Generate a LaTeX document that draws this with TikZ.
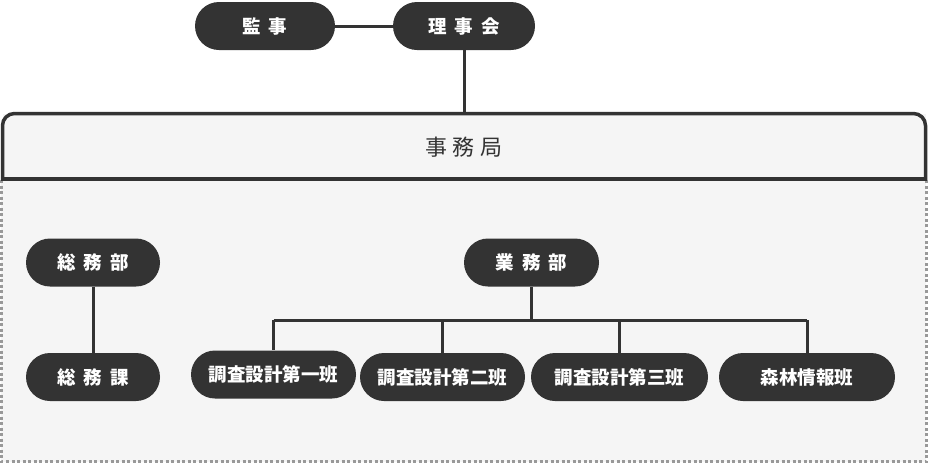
\documentclass[tikz,border=0pt]{standalone}
\usepackage{fontspec}
\newfontfamily\cjk{Noto Sans CJK JP}
\definecolor{dark}{HTML}{333333}
\definecolor{pane}{HTML}{F5F5F5}
\definecolor{dots}{HTML}{999999}
\tikzset{
  x=1pt,y=-1pt,
  pill/.style={draw=none,fill=dark,text=white,rounded corners=24pt,minimum height=48pt,
    font=\cjk\bfseries\fontsize{18.5}{18.5}\selectfont,inner sep=0pt},
  wire/.style={draw=dark,line width=3pt},
}
\newcommand{\gp}{\hspace{8pt}}
\begin{document}
\begin{tikzpicture}
\useasboundingbox (0,0) rectangle (928,464);
% lower pane
\fill[pane] (1,180) rectangle (926,462);
\draw[dots,line width=2.5pt,dash pattern=on 3pt off 2.5pt] (1.5,180) -- (1.5,461.5) -- (926.5,461.5) -- (926.5,180);
% office box
\fill[pane] (2.5,180) -- (2.5,113.5) -- (925.5,113.5) -- (925.5,180) -- cycle;
\draw[dark,line width=3.5pt,rounded corners=12pt] (2.5,180) -- (2.5,113.5) -- (925.5,113.5) -- (925.5,180);
\draw[dark,line width=3.5pt] (0.75,179) -- (927.25,179);
\node[font=\cjk\fontsize{22}{22}\selectfont,text=dark,inner sep=0pt] (office) at (464,147) {事\hspace{6pt}務\hspace{6pt}局};
\coordinate (officetop) at (464,113.5);
% top
\node[pill,minimum width=140pt] (kanji) at (265,26) {監\gp 事};
\node[pill,minimum width=142pt] (board) at (464,26) {理\gp 事\gp 会};
\draw[wire] (kanji) -- (board);
\draw[wire] (board) -- (officetop);
% general affairs
\node[pill,minimum width=134pt] (gad) at (93,262.5) {総\gp 務\gp 部};
\node[pill,minimum width=134pt] (gas) at (93,377) {総\gp 務\gp 課};
\draw[wire] (gad) -- (gas);
% business
\node[pill,minimum width=135pt] (bd) at (531.5,262.5) {業\gp 務\gp 部};
\node[pill,minimum width=165pt] (t1) at (273.5,374.5) {調査設計第一班};
\node[pill,minimum width=165pt] (t2) at (442.5,377) {調査設計第二班};
\node[pill,minimum width=177pt] (t3) at (619.5,377) {調査設計第三班};
\node[pill,minimum width=176pt] (t4) at (807,377) {森林情報班};
\coordinate (hub) at (531.5,320);
\draw[wire] (bd) -- (hub);
\draw[wire] (t1.north |- hub) -- (t4.north |- hub);
\foreach \t in {t1,t2,t3,t4}{\draw[wire] (\t.north |- hub) -- (\t.north);}
\end{tikzpicture}
\end{document}
